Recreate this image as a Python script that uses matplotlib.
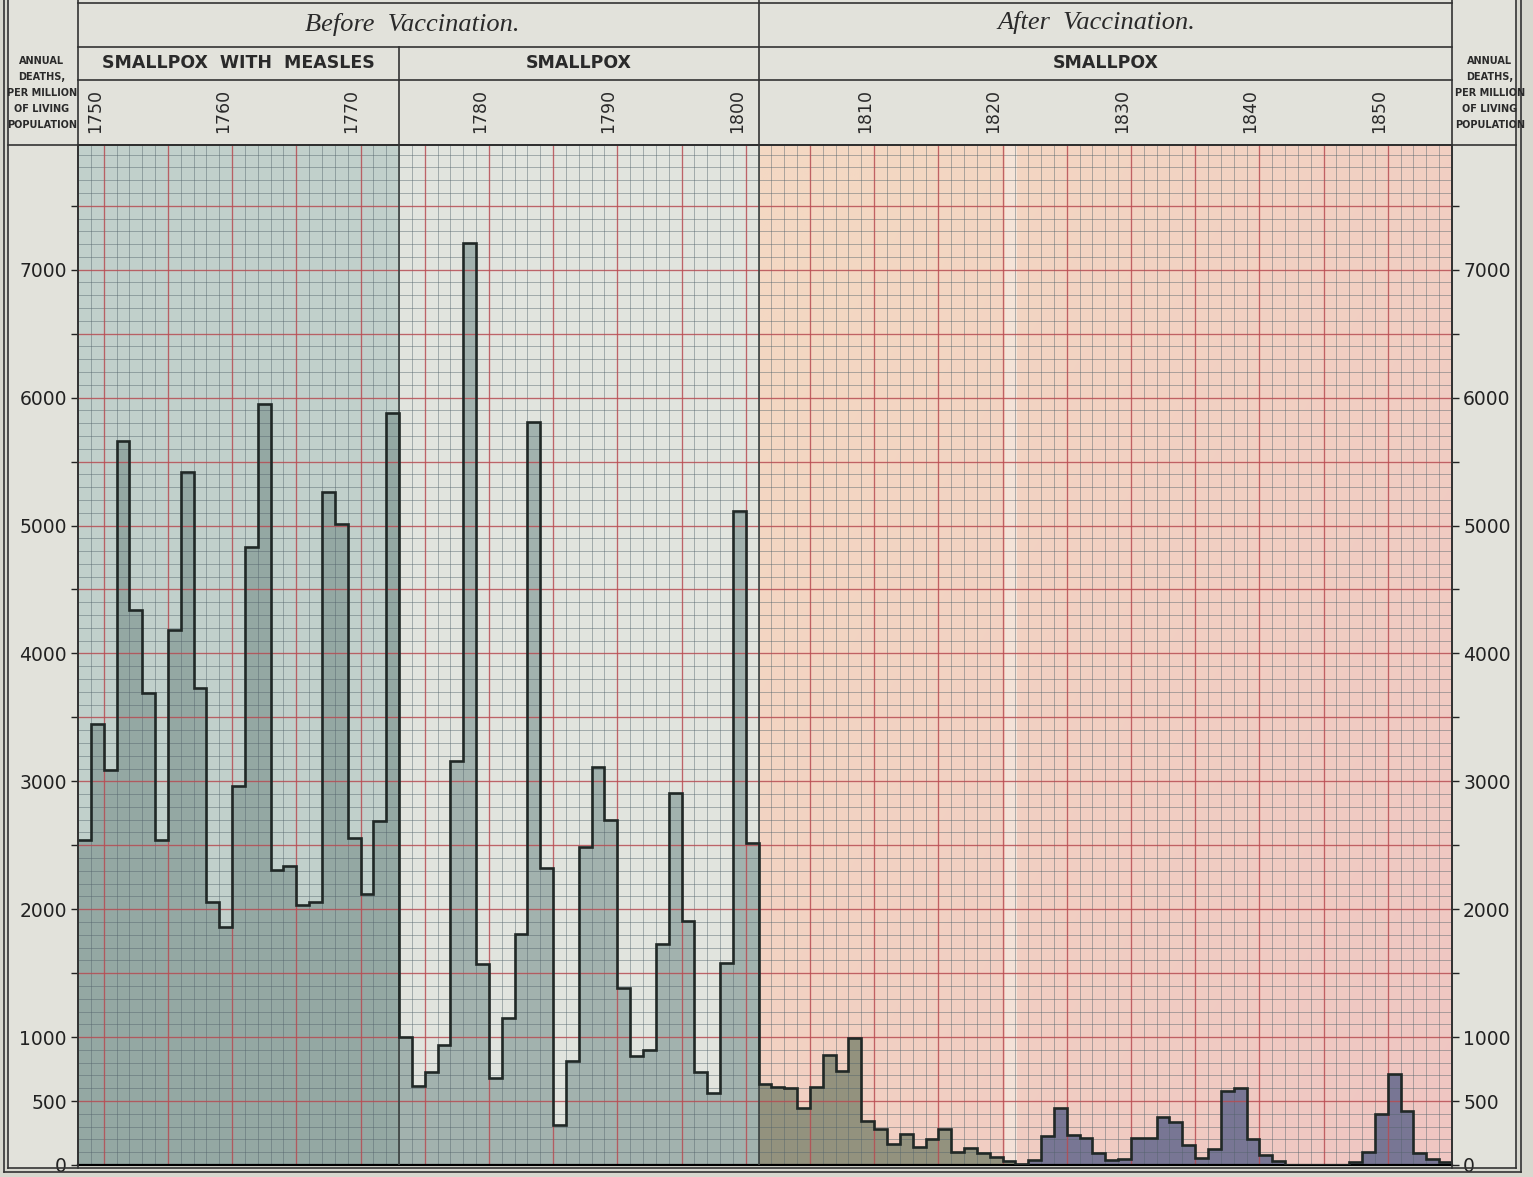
import numpy as np
import matplotlib.pyplot as plt
import matplotlib.transforms as mtransforms
from matplotlib.lines import Line2D

# Annual deaths from smallpox per million of living population
years_measles = np.arange(1749, 1774)      # smallpox with measles
deaths_measles = [2540, 3450, 3090, 5660, 4340, 3690, 2540, 4180, 5420, 3730,
                  2060, 1860, 2960, 4830, 5950, 2310, 2340, 2030, 2060, 5260,
                  5010, 2560, 2120, 2690, 5880]
years_before = np.arange(1774, 1802)       # smallpox, before vaccination
deaths_before = [1000, 620, 730, 940, 3160, 7210, 1570, 680, 1150, 1810,
                 5810, 2320, 310, 810, 2490, 3110, 2700, 1380, 850, 900,
                 1730, 2910, 1910, 730, 560, 1580, 5110, 2520]
years_after = np.arange(1802, 1856)        # smallpox, after vaccination
deaths_after = [630, 610, 605, 445, 610, 860, 735, 990, 345, 285,
                165, 245, 140, 200, 280, 105, 135, 90, 65, 35,
                5, 40, 225, 445, 235, 215, 90, 40, 50, 210,
                210, 375, 340, 155, 58, 125, 580, 605, 200, 80,
                35, 0, 0, 0, 0, 0, 25, 105, 395, 710,
                425, 90, 50, 25]

decade_labels = [1750, 1760, 1770, 1780, 1790, 1800, 1810, 1820, 1830, 1840, 1850]
ytick_values = [0, 500, 1000, 2000, 3000, 4000, 5000, 6000, 7000]
period_titles = ["Before  Vaccination.", "After  Vaccination."]
section_titles = ["SMALLPOX  WITH  MEASLES", "SMALLPOX", "SMALLPOX"]
side_label = "ANNUAL\nDEATHS,\nPER MILLION\nOF LIVING\nPOPULATION"

W, H = 1533, 1177
fig = plt.figure(figsize=(W / 100, H / 100), dpi=100, facecolor='#d8d8cf')


def fx(px):
    return px / W


def fy(py):
    return 1 - py / H


def edges_of(yrs):
    return np.append(yrs - 0.5, yrs[-1] + 0.5)


# header panel background
fig.add_artist(plt.Rectangle((fx(8), fy(1168)), fx(1516) - fx(8), fy(0) - fy(1168),
                             transform=fig.transFigure, color='#e2e2db', zorder=0))

ax = fig.add_axes([fx(78), fy(1165), fx(1452) - fx(78), fy(145) - fy(1165)])
ytop = 7975
x0, x1 = 1748.5, 1855.5
split_measles = years_before[0] - 0.5
split_vacc = years_after[0] - 0.5

# paper tints of each section
ax.axvspan(x0, split_measles, color='#c1d0cb', zorder=0, lw=0)
ax.axvspan(split_measles, split_vacc, color='#e1e4de', zorder=0, lw=0)
peach = np.array([0xf4, 0xd8, 0xc3]) / 255
pink = np.array([0xef, 0xc6, 0xc2]) / 255
gx = np.linspace(0, 1, 80)[None, :, None]
gy = np.linspace(1, 0, 40)[:, None, None]   # row 0 = top
w = np.clip(0.6 * gx + 0.5 * (1 - gy) - 0.1, 0, 1)
grad = peach * (1 - w) + pink * w
ax.imshow(grad, extent=(split_vacc, x1, 0, ytop), aspect='auto',
          interpolation='bilinear', zorder=0)
ax.axvspan(1820.7, 1821.6, color='#f6ebe2', alpha=0.7, zorder=0, lw=0)

# shaded area under the curve
ax.stairs(deaths_measles, edges_of(years_measles), baseline=0, fill=True,
          color='#8ca19d', alpha=0.85, zorder=1, lw=0)
ax.stairs(deaths_before, edges_of(years_before), baseline=0, fill=True,
          color='#97aaa6', alpha=0.85, zorder=1, lw=0)
da = np.array(deaths_after)
early = years_after < 1823
ax.stairs(da[early], edges_of(years_after[early]), baseline=0, fill=True,
          color='#898c77', alpha=0.9, zorder=1, lw=0)
ax.stairs(da[~early], edges_of(years_after[~early]), baseline=0, fill=True,
          color='#6b6d8f', alpha=0.9, zorder=1, lw=0)

# graph paper
ax.vlines(np.arange(x0 + 1, x1, 1), 0, ytop, color='#53636b', lw=0.7, alpha=0.45, zorder=2)
ax.hlines(np.arange(100, ytop, 100), x0, x1, color='#53636b', lw=0.7, alpha=0.45, zorder=2)
ax.vlines(np.arange(1750.5, x1 + 0.1, 5), 0, ytop, color='#c8474d', lw=1.0, alpha=0.7, zorder=2)
ax.hlines(np.arange(500, ytop, 500), x0, x1, color='#c8474d', lw=1.0, alpha=0.7, zorder=2)
ax.vlines([split_measles, split_vacc], 0, ytop, color='#3a403f', lw=1.2, zorder=3)

# outline of the yearly values
all_years = np.concatenate([years_measles, years_before, years_after])
all_deaths = np.concatenate([deaths_measles, deaths_before, deaths_after])
ax.stairs(all_deaths, edges_of(all_years), baseline=None, color='#202826', lw=1.9, zorder=4)

ax.set_xlim(x0, x1)
ax.set_ylim(0, ytop)
ax.set_xticks([])
ax.set_yticks(ytick_values)
ax.set_yticks(np.arange(1500, ytop, 1000), minor=True)
ax.tick_params(axis='y', which='both', direction='out', length=5, width=1,
               colors='#222222', labelsize=13.5, left=True, right=True,
               labelleft=True, labelright=True, pad=3)
for side in ['left', 'right']:
    ax.spines[side].set_linewidth(1.3)
    ax.spines[side].set_color('#2b2b2b')
ax.spines['bottom'].set_linewidth(1.6)
ax.spines['top'].set_linewidth(1.2)

# header
trans = mtransforms.blended_transform_factory(ax.transData, fig.transFigure)
lc = '#333333'
for py, xa, xb in [(3, fx(78), fx(1452)), (47, fx(78), fx(1452)), (80, fx(78), fx(1452)),
                   (145, fx(8), fx(1516)), (1168, fx(8), fx(1516)), (1172, fx(4), fx(1521))]:
    fig.add_artist(Line2D([xa, xb], [fy(py), fy(py)], transform=fig.transFigure,
                          color=lc, lw=1.2))
for px, pa, pb in [(78, 0, 1168), (1452, 0, 1168), (8, 0, 1168), (4, 0, 1172),
                   (1516, 0, 1168), (1521, 0, 1172)]:
    fig.add_artist(Line2D([fx(px), fx(px)], [fy(pa), fy(pb)], transform=fig.transFigure,
                          color=lc, lw=1.2))
fig.add_artist(Line2D([split_vacc, split_vacc], [fy(0), fy(145)], transform=trans, color=lc, lw=1.2))
fig.add_artist(Line2D([split_measles, split_measles], [fy(47), fy(145)], transform=trans, color=lc, lw=1.2))

serif = 'Liberation Serif'
fig.text((x0 + split_vacc) / 2 - 0.5, fy(25), period_titles[0], transform=trans, ha='center',
         va='center', fontsize=19, style='italic', family=serif, color='#2a2a2a')
fig.text((split_vacc + x1) / 2 - 0.7, fy(22), period_titles[1], transform=trans, ha='center',
         va='center', fontsize=19, style='italic', family=serif, color='#2a2a2a')

for (a, b), title in zip([(x0, split_measles), (split_measles, split_vacc), (split_vacc, x1)],
                         section_titles):
    fig.text((a + b) / 2, fy(63), title, transform=trans, ha='center', va='center',
             fontsize=12.5, fontweight='bold', color='#2a2a2a')

for yr in decade_labels:
    fig.text(yr - 0.2, fy(111), str(yr), transform=trans, ha='center', va='center',
             rotation=90, fontsize=12.5, color='#2a2a2a')

for px in [42, 1490]:
    fig.text(fx(px), fy(93), side_label, ha='center', va='center', fontsize=7,
             fontweight='bold', linespacing=1.75, color='#2a2a2a')

fig.savefig('out.png', dpi=100, facecolor=fig.get_facecolor())
